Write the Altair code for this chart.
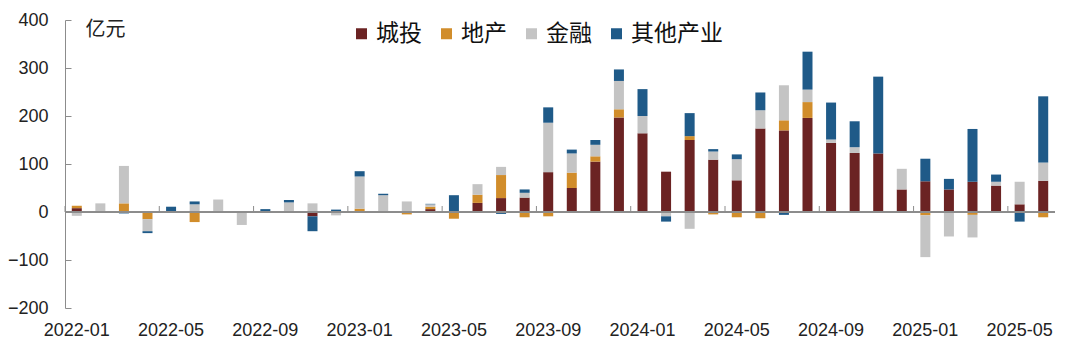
import altair as alt
import pandas as pd

months = [
    "2022-01", "2022-02", "2022-03", "2022-04", "2022-05", "2022-06",
    "2022-07", "2022-08", "2022-09", "2022-10", "2022-11", "2022-12",
    "2023-01", "2023-02", "2023-03", "2023-04", "2023-05", "2023-06",
    "2023-07", "2023-08", "2023-09", "2023-10", "2023-11", "2023-12",
    "2024-01", "2024-02", "2024-03", "2024-04", "2024-05", "2024-06",
    "2024-07", "2024-08", "2024-09", "2024-10", "2024-11", "2024-12",
    "2025-01", "2025-02", "2025-03", "2025-04", "2025-05", "2025-06",
]
tick_months = ["2022-01", "2022-05", "2022-09", "2023-01", "2023-05", "2023-09",
               "2024-01", "2024-05", "2024-09", "2025-01", "2025-05"]

series = ["城投", "地产", "金融", "其他产业"]
colors = ["#6B2323", "#D18D2B", "#C4C4C4", "#1F5A88"]

chengtou = [8, 0, 0, 0, 0, 0, 0, 0, 0, 0, -9, 0,
            2, 0, 0, 6, 0, 19, 29, 30, 83, 50, 105, 197,
            164, 84, 150, 109, 66, 174, 170, 196, 144, 123, 122, 47,
            64, 47, 63, 55, 16, 65]
dichan = [5, 0, 18, -15, 0, -21, 0, 0, 0, 0, 0, 0,
          5, -2, -5, 5, -14, 17, 48, -11, -9, 32, 11, 17,
          -2, 0, 8, -5, -11, -13, 21, 33, 0, 0, 0, 0,
          -7, 0, -6, 0, 0, -11]
jinrong = [-8, 18, 78, -25, 0, 16, 26, -27, 0, 20, 18, -7,
           67, 35, 22, 5, 0, 22, 17, 10, 103, 40, 24, 59,
           36, -9, -35, 17, 44, 38, 73, 26, 7, 12, 0, 43,
           -87, -51, -47, 8, 47, 38]
qita = [0, 0, -3, -4, 11, 6, 0, 1, 6, 5, -31, 5,
        11, 3, 0, 1, 35, 0, -4, 7, 32, 8, 10, 24,
        56, -11, 48, 5, 10, 37, -6, 79, 77, 54, 160, 0,
        47, 22, 110, 15, -20, 138]

rows = []
for k, vals in enumerate([chengtou, dichan, jinrong, qita]):
    for m, v in zip(months, vals):
        if v != 0:
            rows.append({"month": m, "series": series[k], "idx": k, "value": v})
df = pd.DataFrame(rows)
ticks_df = pd.DataFrame({"month": tick_months})

W, H = 990, 288
num_font = "Liberation Sans"
cjk_font = "Noto Sans CJK SC"
axis_gray = "#8C8C8C"
y_vals = [-200, -100, 0, 100, 200, 300, 400]

x_scale = alt.Scale(domain=months, paddingInner=0, paddingOuter=0)
y_scale = alt.Scale(domain=[-200, 400], nice=False, zero=False)

label_list = ",".join("'" + m + "'" for m in tick_months)
x_axis = alt.Axis(orient="bottom", labelAngle=0, labelAlign="center",
                  labelExpr=f"indexof([{label_list}], datum.value) >= 0 ? datum.label : ''",
                  ticks=False, domain=False, labelPadding=13,
                  labelOverlap=False, labelBound=False, labelFlush=False,
                  labelFontSize=18, labelFont=num_font, labelColor="#222222",
                  title=None, grid=False)

base = alt.Chart(df)

bars = base.mark_bar(width=10).encode(
    x=alt.X("month:N", scale=x_scale, sort=months, axis=x_axis),
    y=alt.Y("value:Q", stack="zero", scale=y_scale,
            axis=alt.Axis(orient="left", values=y_vals, ticks=False, domain=False,
                          labelPadding=17, labelFontSize=18, labelFont=num_font,
                          labelColor="#222222", grid=False,
                          title="亿元", titleAngle=0, titleAlign="left",
                          titleBaseline="middle", titleX=20, titleY=9,
                          titleFontSize=20, titleFont=cjk_font,
                          titleFontWeight="normal", titleColor="#222222")),
    color=alt.Color("series:N", scale=alt.Scale(domain=series, range=colors),
                    legend=alt.Legend(orient="none", legendX=285, legendY=2,
                                      direction="horizontal", title=None,
                                      symbolType="square", symbolSize=121,
                                      symbolStrokeWidth=0, symbolOpacity=1,
                                      labelFontSize=23, labelFont=cjk_font,
                                      labelColor="#111111", labelOffset=3,
                                      columnPadding=13, padding=0)),
    order=alt.Order("idx:Q", sort="ascending"),
)

# invisible layer carrying the inner y-axis line with inward ticks
guides = base.mark_tick(opacity=0).encode(
    x=alt.X("month:N", scale=x_scale, sort=months, axis=x_axis),
    y=alt.Y("value:Q", scale=y_scale,
            axis=alt.Axis(orient="right", offset=-W, values=y_vals, labels=False,
                          tickSize=6, tickColor=axis_gray, domainColor=axis_gray,
                          title=None, grid=False)),
)

zero_line = alt.Chart(df).mark_rule(color=axis_gray, strokeWidth=1).encode(
    y=alt.Y(datum=0, scale=y_scale, axis=None)
)

band_ticks = alt.Chart(ticks_df).mark_rule(color=axis_gray, strokeWidth=1).encode(
    x=alt.X("month:N", scale=x_scale, sort=months, bandPosition=0, axis=x_axis),
    y=alt.Y(datum=0, scale=y_scale, axis=None),
    y2=alt.datum(12.5),
)

chart = (
    alt.layer(bars, guides, zero_line, band_ticks)
    .resolve_axis(y="independent")
    .properties(width=W, height=H,
                autosize=alt.AutoSizeParams(type="none"),
                padding={"left": 65, "top": 20, "right": 25, "bottom": 45},
                background="white")
    .configure_view(stroke=None)
)

chart.save("out.html", embed_options={"renderer": "svg", "actions": False})
